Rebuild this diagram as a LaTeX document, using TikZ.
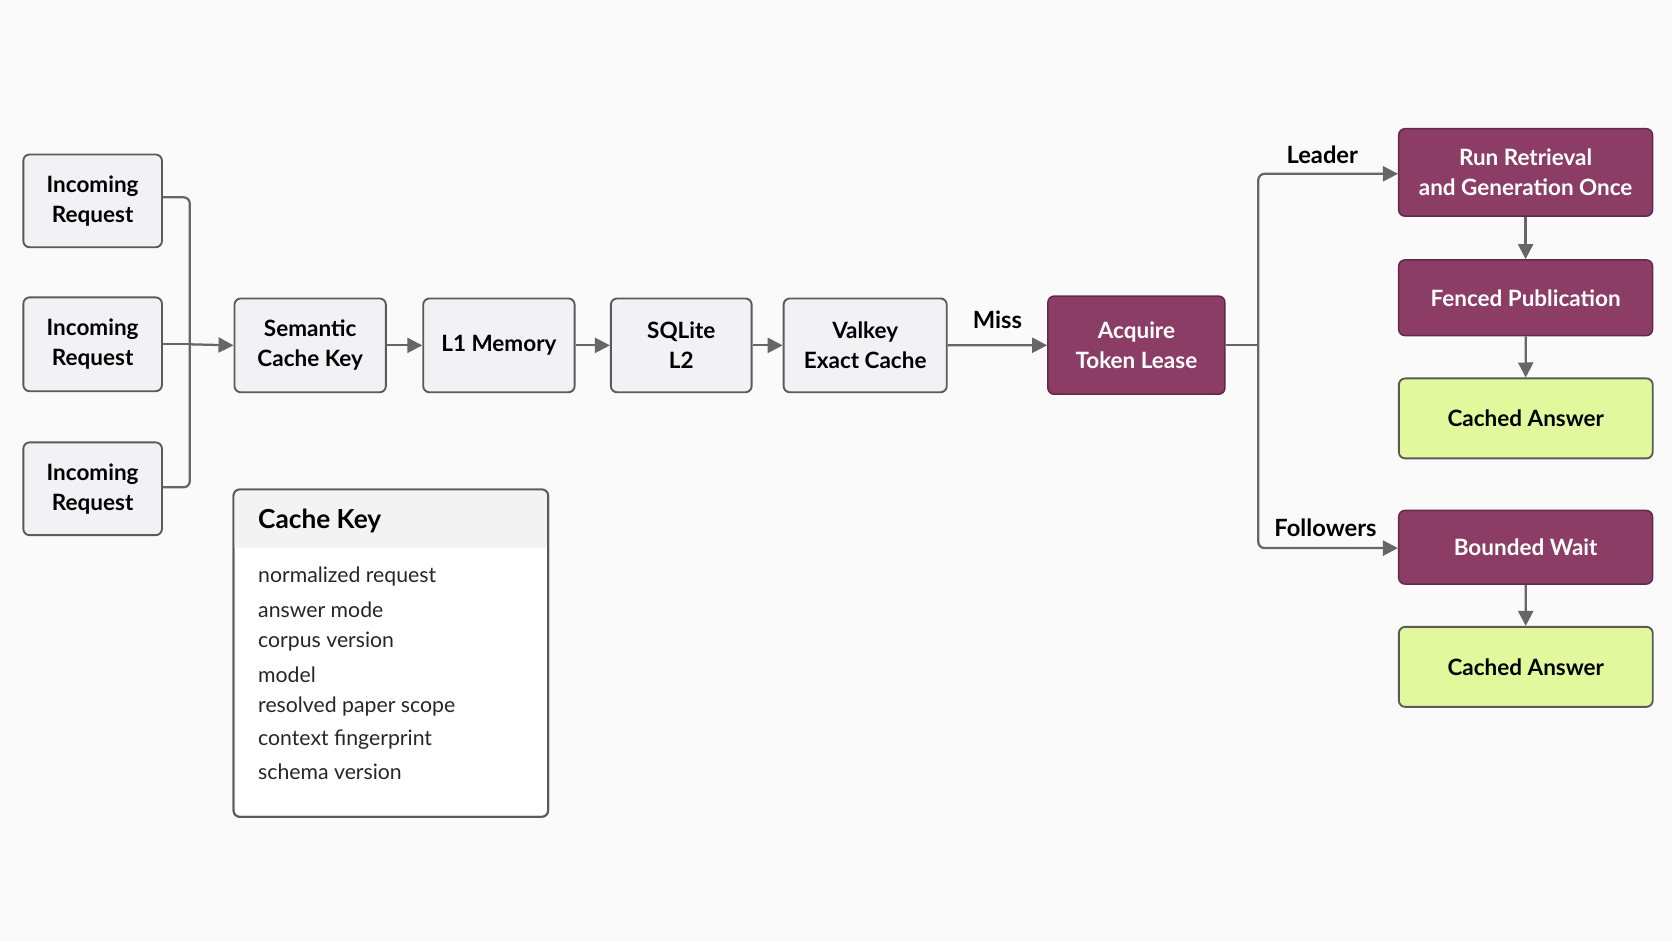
\documentclass[tikz,border=0pt]{standalone}
\usepackage{fontspec}
\setmainfont{Lato}
\usetikzlibrary{arrows.meta}
\definecolor{purp}{HTML}{8B3D66}
\definecolor{grn}{HTML}{E1F99C}
\definecolor{gbox}{HTML}{F2F2F4}
\definecolor{bord}{HTML}{5A5A5A}
\definecolor{arr}{HTML}{666666}
\begin{document}
\begin{tikzpicture}[x=0.03cm,y=-0.03cm,
  box/.style={draw=bord,line width=1.5pt,rounded corners=5pt,fill=gbox,font=\fontsize{18}{24}\selectfont\bfseries,align=center,text=black},
  pbox/.style={draw=purp!70!black,line width=1.2pt,rounded corners=5pt,fill=purp,font=\fontsize{18}{24}\selectfont\bfseries,align=center,text=white},
  gnbox/.style={draw=bord,line width=1.5pt,rounded corners=5pt,fill=grn,font=\fontsize{18}{24}\selectfont\bfseries,align=center,text=black},
  con/.style={draw=arr,line width=1.8pt,-{Triangle[length=12pt,width=12pt]}},
  ln/.style={draw=arr,line width=1.8pt},
  lab/.style={font=\fontsize{19}{22}\selectfont\bfseries,text=black}]
\fill[white!98!black] (0,0) rectangle (1568,882);
\useasboundingbox (0,0) rectangle (1568,882);
\newcommand{\bx}[7]{\path (#2,#3) node[#1,minimum width={(#4-#2)*0.03cm},minimum height={(#5-#3)*0.03cm},anchor=north west,inner sep=0pt] (#6) {#7};}
\bx{box}{21}{144}{151}{231}{i1}{Incoming\\Request}
\bx{box}{21}{278}{151}{366}{i2}{Incoming\\Request}
\bx{box}{21}{414}{151}{501}{i3}{Incoming\\Request}
\bx{box}{219}{279}{361}{367}{sk}{Semantic\\Cache Key}
\bx{box}{396}{279}{538}{367}{l1}{L1 Memory}
\bx{box}{572}{279}{704}{367}{sq}{SQLite\\L2}
\bx{box}{734}{279}{887}{367}{vk}{Valkey\\Exact Cache}
\bx{pbox}{982}{277}{1148}{369}{ac}{Acquire\\Token Lease}
\bx{pbox}{1311}{120}{1549}{202}{rr}{Run Retrieval\\and Generation Once}
\bx{pbox}{1311}{243}{1549}{314}{fp}{Fenced Publication}
\bx{gnbox}{1311}{354}{1549}{429}{ca1}{Cached Answer}
\bx{pbox}{1311}{478}{1549}{547}{bw}{Bounded Wait}
\bx{gnbox}{1311}{587}{1549}{662}{ca2}{Cached Answer}
% bracket
\coordinate (j) at (i2.east -| 178,0);
\draw[ln,rounded corners=5pt] (i1.east|-0,185) -- (178,185) -- (178,457) -- (i3.east|-0,457);
\draw[ln] (i2.east) -- (j);
\draw[con] (j) -- (sk.west);
\draw[con] (sk) -- (l1);
\draw[con] (l1) -- (sq);
\draw[con] (sq) -- (vk);
\draw[con] (vk) -- node[lab,above=9pt]{Miss} (ac);
\coordinate (b) at (ac.east -| 1180,0);
\draw[ln] (ac.east) -- (b);
\draw[con,rounded corners=5pt] (b) -- (1180,163) -- (rr.west|-0,163);
\draw[con,rounded corners=5pt] (b) -- (1180,514) -- (bw.west|-0,514);
\node[lab] (ld) at (1240,145) {Leader};
\node[lab] (fl) at (1243,495) {Followers};
\draw[con] (rr) -- (fp);
\draw[con] (fp) -- (ca1);
\draw[con] (bw) -- (ca2);
% panel
\draw[bord,line width=1.5pt,fill=white,rounded corners=5pt] (219,459) rectangle (514,766);
\begin{scope}
\clip[rounded corners=5pt] (219,459) rectangle (514,766);
\fill[gbox!85!gray!40!white] (219,459) rectangle (514,514);
\end{scope}
\draw[bord,line width=1.5pt,rounded corners=5pt] (219,459) rectangle (514,766);
\node[anchor=west,font=\fontsize{21}{24}\selectfont\bfseries] (pt) at (238,489) {Cache Key};
\foreach \t [count=\i from 0] in {normalized request,answer mode,corpus version,model,resolved paper scope,context fingerprint,schema version}
  \node[anchor=west,font=\fontsize{17}{20}\selectfont,text=black!85] (k\i) at (238,541+30.5*\i) {\t};
\end{tikzpicture}
\end{document}
